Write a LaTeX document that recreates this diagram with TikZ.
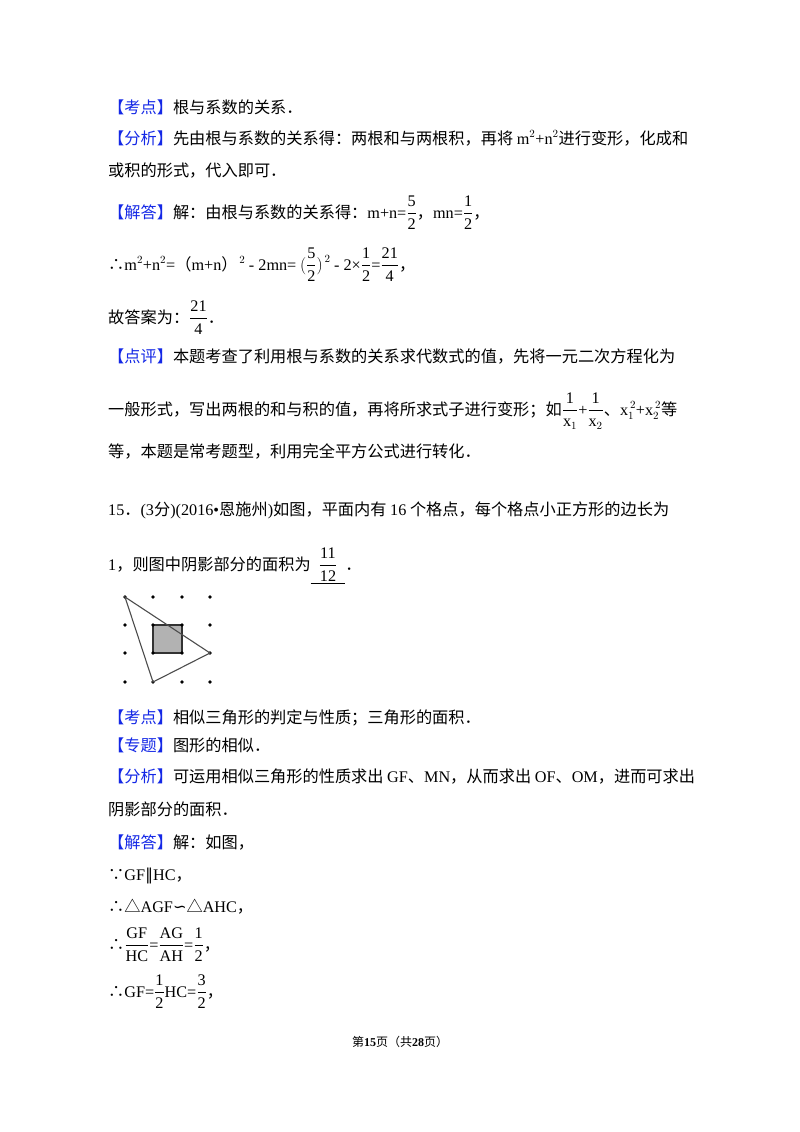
\documentclass[tikz,border=0pt]{standalone}
\usepackage{fontspec}
\setmainfont{Noto Sans CJK SC}
\newfontfamily\lat{Liberation Serif}
\newfontfamily\dv{DejaVu Sans}
\definecolor{kblue}{RGB}{20,40,230}
\newcommand{\kw}[1]{\textcolor{kblue}{【#1】}}
\newcommand{\m}[1]{{\lat #1}}
\newcommand{\mr}[1]{\mbox{\lat #1}}
\newcommand{\dfr}[2]{\ensuremath{\displaystyle\frac{\mr{#1}}{\mr{#2}}}}
\newcommand{\sym}[1]{{\dv #1}}
\begin{document}
\begin{tikzpicture}[x=1pt,y=-1pt,
  txt/.style={anchor=base west,inner sep=0pt,font=\fontsize{16.2}{20}\selectfont},
  dot/.style={circle,fill=black,inner sep=0pt,minimum size=3.6pt}]
\useasboundingbox (0,0) rectangle (800,1132);
\node[txt] (l1) at (108,113) {\kw{考点}根与系数的关系．};
\node[txt] (l2) at (108,144) {\kw{分析}先由根与系数的关系得：两根和与两根积，再将 \m{m$^2$+n$^2$}进行变形，化成和};
\node[txt] (l3) at (108,176) {或积的形式，代入即可．};
\node[txt] (l4) at (108,218) {\kw{解答}解：由根与系数的关系得：\m{m+n=}\dfr{5}{2}，\m{mn=}\dfr{1}{2}，};
\node[txt] (l5) at (108,270) {∴\m{m$^2$+n$^2$=}（\m{m+n}）$^{\,2}$ \m{- 2mn=} $(\dfr{5}{2})^{\,2}$ \m{- 2×}\dfr{1}{2}\m{=}\dfr{21}{4}，};
\node[txt] (l6) at (108,323) {故答案为：\dfr{21}{4}．};
\node[txt] (l7) at (108,362) {\kw{点评}本题考查了利用根与系数的关系求代数式的值，先将一元二次方程化为};
\node[txt] (l8) at (108,415) {一般形式，写出两根的和与积的值，再将所求式子进行变形；如\dfr{1}{x$_1$}\m{+}\dfr{1}{x$_2$}、\m{x$_1^{\,2}$+x$_2^{\,2}$}等};
\node[txt] (l9) at (108,457) {等，本题是常考题型，利用完全平方公式进行转化．};
\node[txt] (l10) at (108,515) {\m{15}．\m{(3}分\m{)(2016•}恩施州\m{)}如图，平面内有 \m{16} 个格点，每个格点小正方形的边长为};
\node[txt] (l11) at (108,570) {\m{1}，则图中阴影部分的面积为\underline{\hspace{8pt}\dfr{11}{12}\hspace{8pt}}．};
% figure
\fill[gray!60] (153,625) rectangle (182,653);
\draw[line width=1.2pt,black!80] (153,625) rectangle (182,653);
\foreach \i/\x in {0/125,1/153,2/182,3/210}
  \foreach \j/\y in {0/597,1/625,2/653,3/682}
    \node[dot] (p\i\j) at (\x,\y) {};
\draw[line width=1.1pt,gray!60!black] (p00.center) -- (p32.center) -- (p13.center) -- cycle;
\node[txt] (l12) at (108,723) {\kw{考点}相似三角形的判定与性质；三角形的面积．};
\node[txt] (l13) at (108,751) {\kw{专题}图形的相似．};
\node[txt] (l14) at (108,782) {\kw{分析}可运用相似三角形的性质求出 \m{GF}、\m{MN}，从而求出 \m{OF}、\m{OM}，进而可求出};
\node[txt] (l15) at (108,815) {阴影部分的面积．};
\node[txt] (l16) at (108,848) {\kw{解答}解：如图，};
\node[txt] (l17) at (108,880) {∵\m{GF}\sym{∥}\m{HC}，};
\node[txt] (l18) at (108,912) {∴△\m{AGF}\sym{∽}△\m{AHC}，};
\node[txt] (l19) at (108,950) {∴\dfr{GF}{HC}\m{=}\dfr{AG}{AH}\m{=}\dfr{1}{2}，};
\node[txt] (l20) at (108,997) {∴\m{GF=}\dfr{1}{2}\m{HC=}\dfr{3}{2}，};
\node[anchor=base,inner sep=0pt,font=\fontsize{12}{14}\selectfont] (ft) at (400,1046) {第\textbf{\m{15}}页（共\textbf{\m{28}}页）};
\end{tikzpicture}
\end{document}
